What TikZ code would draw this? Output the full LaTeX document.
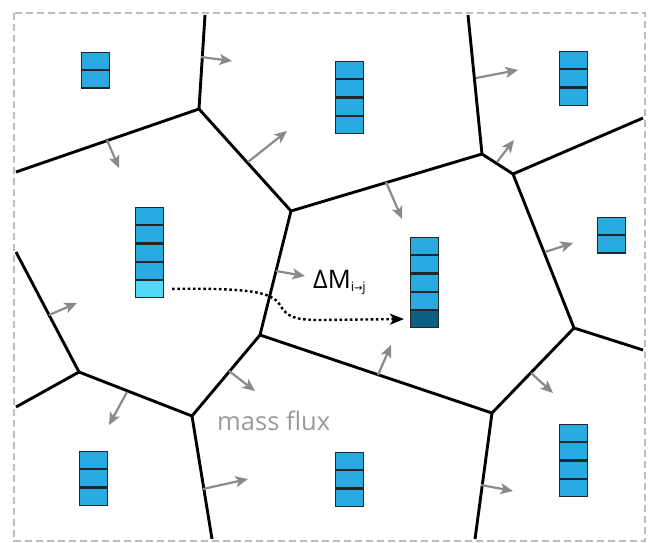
\documentclass[tikz,border=0pt]{standalone}
\usepackage{fontspec}
\setmainfont{Open Sans}
\newfontfamily\symfont{DejaVu Sans}
\usetikzlibrary{arrows.meta}

\definecolor{cellblue}{HTML}{29ABE2}
\definecolor{celllight}{HTML}{50DAF8}
\definecolor{celldark}{HTML}{0A6183}
\definecolor{cellshadow}{HTML}{8A8A8A}
\definecolor{fluxgray}{HTML}{8A8A8A}
\definecolor{labelgray}{HTML}{9A9A9A}
\definecolor{framegray}{HTML}{BDBDBD}

% one stack of mass cells: name, left x, top y, number of cells
\newcommand\cellstack[4]{%
  \foreach \k in {1,...,#4}{%
    \pgfmathsetmacro\ytop{#3+(\k-1)*18.2}
    \fill[cellshadow] (#2+1,\ytop+1) rectangle ++(28,17.2);
    \node[cellbox] (#1-\k) at (#2,\ytop) {};
  }%
}

\begin{document}
\begin{tikzpicture}[x=1pt,y=-1pt,
  cellbox/.style={rectangle, draw=black!85, line width=1.1pt, fill=cellblue,
    minimum width=28pt, minimum height=17.2pt, inner sep=0pt, anchor=north west},
  edge/.style={line width=2.9pt, black},
  flux/.style={draw=fluxgray, line width=2.2pt,
    -{Stealth[length=12.5pt,width=11pt,inset=3pt]}},
  transfer/.style={line width=2.4pt, black, dash pattern=on 2.6pt off 2.6pt,
    -{Stealth[length=14pt,width=11pt,inset=3.5pt]}},
  bigfont/.style={font=\fontsize{25.5}{30}\selectfont}]

\useasboundingbox (0,0) rectangle (648,542);

% domain frame
\draw[framegray, line width=2.6pt, dash pattern=on 7pt off 4pt] (14,13) rectangle (645,541);

% cell vertices
\coordinate (A) at (199,109);
\coordinate (B) at (291,211);
\coordinate (C) at (482,154);
\coordinate (D) at (513,174);
\coordinate (E) at (574,328);
\coordinate (F) at (492,413);
\coordinate (G) at (260,335);
\coordinate (H) at (192,416);
\coordinate (I) at (79,372);
% where cell walls meet the frame
\coordinate (Atop) at (205,15);
\coordinate (Aleft) at (16,172);
\coordinate (Ctop) at (468,15);
\coordinate (Dright) at (643,118);
\coordinate (Eright) at (643,350);
\coordinate (Fbot) at (475,539);
\coordinate (Hbot) at (212,539);
\coordinate (Iup) at (16,252);
\coordinate (Ileft) at (16,407);

% cell walls
\draw[edge] (Atop) -- (A) -- (Aleft);
\draw[edge] (A) -- (B) -- (C) -- (Ctop);
\draw[edge] (C) -- (D) -- (Dright);
\draw[edge] (D) -- (E) -- (Eright);
\draw[edge] (E) -- (F) -- (Fbot);
\draw[edge] (F) -- (G) -- (B);
\draw[edge] (G) -- (H) -- (Hbot);
\draw[edge] (H) -- (I) -- (Iup);
\draw[edge] (I) -- (Ileft);

% mass flux across the walls
\foreach \sx/\sy/\ex/\ey in {
  201/57/232/61, 107/140/119/168, 248/162/287/131, 476/78/518/70,
  497/162/514/140, 386/182/402/219, 545/252/573/243, 276/271/305/276,
  49/315/77/303, 127/392/109/425, 229/371/255/391, 203/489/248/479,
  378/375/391/345, 531/373/553/393, 481/485/513/491}{
  \coordinate (fs) at (\sx,\sy);
  \coordinate (fe) at (\ex,\ey);
  \draw[flux] (fs) -- (fe);
}

% mass stacks
\cellstack{sa}{81}{52}{2}
\cellstack{sb}{335}{61}{4}
\cellstack{sc}{559}{51}{3}
\cellstack{sd}{135}{207}{4}
\cellstack{se}{597}{217}{2}
\cellstack{sf}{410}{237}{4}
\cellstack{sg}{79}{451}{3}
\cellstack{sh}{335}{452}{3}
\cellstack{si}{559}{424}{4}

% the transferred parcel
\fill[cellshadow] (136,280.8) rectangle ++(28,17.2);
\node[cellbox, fill=celllight] (src) at (135,279.8) {};
\fill[cellshadow] (411,310.8) rectangle ++(28,17.2);
\node[cellbox, fill=celldark] (tgt) at (410,309.8) {};

\draw[transfer, shorten <=8pt, shorten >=6pt] (src.east)
  .. controls (250,288) and (272,292) .. (280,305)
  .. controls (287,317) and (295,320) .. (320,320) -- (tgt.west);

% labels
\node[bigfont, anchor=base west, inner sep=0pt] (dm) at (313,288)
  {ΔM\raisebox{-3.5pt}{\fontsize{13}{15}\selectfont i{\symfont\fontsize{10}{12}\selectfont →}j}};
\node[bigfont, text=labelgray, anchor=base west, inner sep=0pt] (mf) at (217,430) {mass flux};

\end{tikzpicture}
\end{document}
